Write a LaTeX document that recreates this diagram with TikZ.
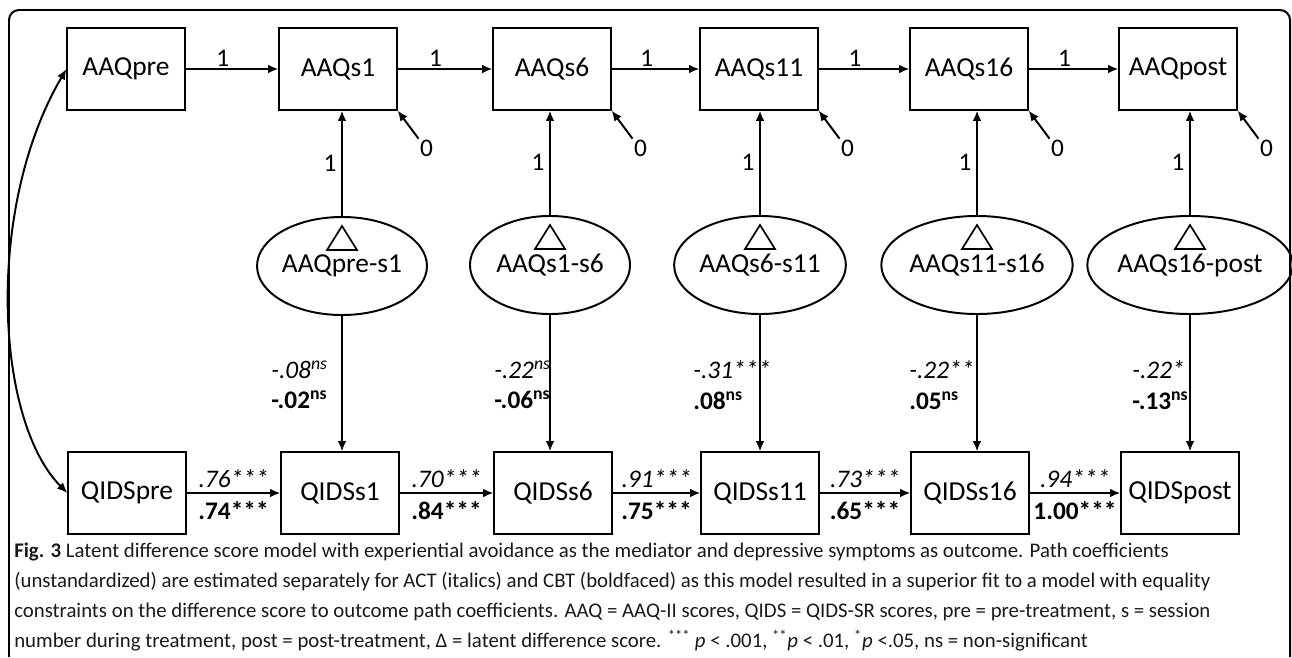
\documentclass[tikz,border=0pt]{standalone}
\usepackage{fontspec}
\setmainfont{Carlito}
\newfontfamily\capfont{Carlito}
\usetikzlibrary{arrows.meta,shapes.geometric}

\begin{document}
\begin{tikzpicture}[x=0.025cm,y=-0.025cm,
		font=\fontsize{18}{21}\selectfont,
		>={Latex[length=0.26cm,width=0.22cm]},
		caja/.style={draw,line width=1.4pt,minimum width=2.93cm,minimum height=2.03cm,font=\fontsize{19.5}{22}\selectfont},
		lat/.style={draw,ellipse,line width=1.4pt,minimum width=4cm,minimum height=2.45cm,inner sep=0pt,font=\fontsize{19.5}{22}\selectfont},
		flecha/.style={line width=1.4pt,->},
		vcoef/.style={anchor=west,align=left,inner sep=0pt,font=\fontsize{18}{18.5}\selectfont}]
	\useasboundingbox (0,0) rectangle (1292,657);
	
	% Marco
	\draw[line width=1.4pt,rounded corners=0.25cm] (9,657) -- (9,10) -- (1290,10) -- (1290,657);
	
	% Fila AAQ
	\node[caja] (a0) at (126,69) {AAQpre};
	\node[caja] (a1) at (338,69) {AAQs1};
	\node[caja] (a2) at (552,69) {AAQs6};
	\node[caja] (a3) at (759,69) {AAQs11};
	\node[caja] (a4) at (969,69) {AAQs16};
	\node[caja] (a5) at (1178,69) {AAQpost};
	
	% Fila QIDS
	\node[caja] (q0) at (127,493) {QIDSpre};
	\node[caja] (q1) at (340,493) {QIDSs1};
	\node[caja] (q2) at (553,493) {QIDSs6};
	\node[caja] (q3) at (760,493) {QIDSs11};
	\node[caja] (q4) at (970,493) {QIDSs16};
	\node[caja] (q5) at (1180,493) {QIDSpost};
	
	% Puntuaciones de diferencia latentes
	\node[lat] (d1) at (342,266) {AAQpre-s1};
	\node[lat] (d2) at (550,265) {AAQs1-s6};
	\node[lat] (d3) at (760,265) {AAQs6-s11};
	\node[lat] (d4) at (977,265) {AAQs11-s16};
	\node[lat] (d5) at (1190,265) {AAQs16-post};
	
	% Triangulos (Delta)
	\draw[line width=1.2pt] ([shift={(-15,-16)}]d1.center) -- ++(30,0) -- ++(-15,-24) -- cycle;
	\draw[line width=1.2pt] ([shift={(-15,-16)}]d2.center) -- ++(30,0) -- ++(-15,-24) -- cycle;
	\draw[line width=1.2pt] ([shift={(-15,-16)}]d3.center) -- ++(30,0) -- ++(-15,-24) -- cycle;
	\draw[line width=1.2pt] ([shift={(-15,-16)}]d4.center) -- ++(30,0) -- ++(-15,-24) -- cycle;
	\draw[line width=1.2pt] ([shift={(-15,-16)}]d5.center) -- ++(30,0) -- ++(-15,-24) -- cycle;
	
	% Caminos AAQ
	\draw[flecha] (a0) -- node[above,pos=0.4,inner sep=1pt] {1} (a1);
	\draw[flecha] (a1) -- node[above,pos=0.4,inner sep=1pt] {1} (a2);
	\draw[flecha] (a2) -- node[above,pos=0.4,inner sep=1pt] {1} (a3);
	\draw[flecha] (a3) -- node[above,pos=0.4,inner sep=1pt] {1} (a4);
	\draw[flecha] (a4) -- node[above,pos=0.4,inner sep=1pt] {1} (a5);
	
	% Cargas de las diferencias
	\draw[flecha] (d1.north) -- (d1.north |- a1.south) node[midway,left] {1};
	\draw[flecha] (d2.north) -- (d2.north |- a2.south) node[midway,left] {1};
	\draw[flecha] (d3.north) -- (d3.north |- a3.south) node[midway,left] {1};
	\draw[flecha] (d4.north) -- (d4.north |- a4.south) node[midway,left] {1};
	\draw[flecha] (d5.north) -- (d5.north |- a5.south) node[midway,left] {1};
	
	% Residuos fijados a 0
	\node[inner sep=1pt] (e1) at ([shift={(29,38)}]a1.south east) {0};
	\node[inner sep=1pt] (e2) at ([shift={(29,38)}]a2.south east) {0};
	\node[inner sep=1pt] (e3) at ([shift={(29,38)}]a3.south east) {0};
	\node[inner sep=1pt] (e4) at ([shift={(29,38)}]a4.south east) {0};
	\node[inner sep=1pt] (e5) at ([shift={(29,38)}]a5.south east) {0};
	\draw[flecha] (e1.north west) -- (a1.south east);
	\draw[flecha] (e2.north west) -- (a2.south east);
	\draw[flecha] (e3.north west) -- (a3.south east);
	\draw[flecha] (e4.north west) -- (a4.south east);
	\draw[flecha] (e5.north west) -- (a5.south east);
	
	% Covarianza pre
	\draw[line width=1.4pt,<->] (a0.west) .. controls +(-82,140) and +(-72,-72) .. (q0.west);
	
	% Diferencia -> QIDS
	\draw[flecha] (d1.south) -- (d1.south |- q1.north);
	\draw[flecha] (d2.south) -- (d2.south |- q2.north);
	\draw[flecha] (d3.south) -- (d3.south |- q3.north);
	\draw[flecha] (d4.south) -- (d4.south |- q4.north);
	\draw[flecha] (d5.south) -- (d5.south |- q5.north);
	\node[vcoef] (c1) at (271,385) {\textit{-.08}\textsuperscript{\textit{ns}}\\[3pt]\textbf{-.02}\textsuperscript{\textbf{ns}}};
	\node[vcoef] (c2) at (494,385) {\textit{-.22}\textsuperscript{\textit{ns}}\\[3pt]\textbf{-.06}\textsuperscript{\textbf{ns}}};
	\node[vcoef] (c3) at (693,385) {\textit{-.31***}\\[3pt]\textbf{.08}\textsuperscript{\textbf{ns}}};
	\node[vcoef] (c4) at (909,385) {\textit{-.22**}\\[3pt]\textbf{.05}\textsuperscript{\textbf{ns}}};
	\node[vcoef] (c5) at (1132,385) {\textit{-.22*}\\[3pt]\textbf{-.13}\textsuperscript{\textbf{ns}}};
	
	% Autorregresivos QIDS
	\draw[flecha] (q0) -- node[above,inner sep=3pt] {\textit{.76***}} node[below,inner sep=5pt] {\textbf{.74***}} (q1);
	\draw[flecha] (q1) -- node[above,inner sep=3pt] {\textit{.70***}} node[below,inner sep=5pt] {\textbf{.84***}} (q2);
	\draw[flecha] (q2) -- node[above,inner sep=3pt] {\textit{.91***}} node[below,inner sep=5pt] {\textbf{.75***}} (q3);
	\draw[flecha] (q3) -- node[above,inner sep=3pt] {\textit{.73***}} node[below,inner sep=5pt] {\textbf{.65***}} (q4);
	\draw[flecha] (q4) -- node[above,inner sep=3pt] {\textit{.94***}} node[below,inner sep=5pt] {\textbf{1.00***}} (q5);
	
	% Leyenda
	\node[anchor=north west,align=left,inner sep=0pt,text=black!90,font=\capfont\fontsize{14.8}{21.3}\selectfont] (cap) at (14,543)
	{\textbf{Fig. 3} Latent difference score model with experiential avoidance as the mediator and depressive symptoms as outcome. Path coefficients\\
		(unstandardized) are estimated separately for ACT (italics) and CBT (boldfaced) as this model resulted in a superior fit to a model with equality\\
		constraints on the difference score to outcome path coefficients. AAQ = AAQ-II scores, QIDS = QIDS-SR scores, pre = pre-treatment, s = session\\
		number during treatment, post = post-treatment, Δ = latent difference score. \textsuperscript{***} \textit{p} < .001, \textsuperscript{**}\textit{p} < .01, \textsuperscript{*}\textit{p} <.05, ns = non-significant};
\end{tikzpicture}
\end{document}
